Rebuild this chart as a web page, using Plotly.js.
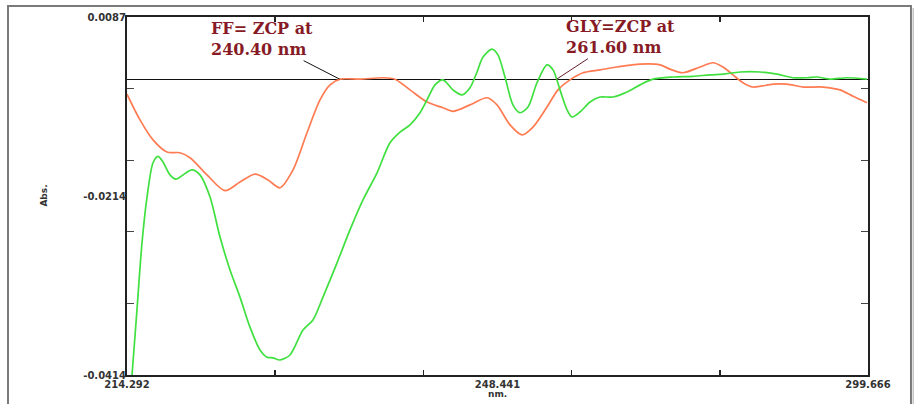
<!DOCTYPE html>
<html>
<head>
<meta charset="utf-8">
<script src="https://cdn.plot.ly/plotly-3.0.1.min.js"></script>
<style>html,body{margin:0;padding:0;background:#fff;}#chart{width:914px;height:404px;}</style>
</head>
<body>
<div id="chart"></div>
<script>
// Axis limits and tick labels (instrument style: min, mid, max)
const xMin = 214.292, xMax = 299.666;
const yMin = -0.0414, yMax = 0.0087;
const xTickText = ['214.292', '248.441', '299.666'];
const yTickText = ['0.0087', '-0.0214', '-0.0414'];

// FF spectrum (orange)
const wlFF = [214.29,215.79,217.29,218.90,220.40,221.55,223.51,225.58,227.31,229.04,230.54,231.92,233.42,235.03,236.53,237.68,238.84,241.14,243.79,245.17,246.90,248.86,250.70,251.85,253.81,255.77,256.92,258.42,259.80,261.07,262.68,263.95,265.33,266.83,268.79,270.75,273.40,275.70,276.85,278.35,280.31,281.81,282.96,284.11,285.26,286.41,288.72,290.33,292.17,294.48,296.44,297.94,299.55];
const absFF = [-0.0021,-0.0057,-0.0085,-0.0102,-0.0103,-0.0110,-0.0134,-0.0156,-0.0144,-0.0133,-0.0141,-0.0152,-0.0127,-0.0075,-0.0029,-0.0008,0.0000,0.0000,0.0002,0.0000,-0.0015,-0.0032,-0.0040,-0.0045,-0.0036,-0.0026,-0.0036,-0.0064,-0.0078,-0.0067,-0.0039,-0.0015,-0.0001,0.0009,0.0013,0.0017,0.0021,0.0020,0.0014,0.0009,0.0017,0.0023,0.0017,0.0006,-0.0005,-0.0011,-0.0007,-0.0007,-0.0011,-0.0011,-0.0015,-0.0024,-0.0033];

// GLY spectrum (green)
const wlGLY = [214.87,215.44,216.02,216.60,217.29,217.86,218.44,219.25,219.94,220.74,221.78,222.70,223.86,225.01,226.16,227.31,228.46,229.62,230.42,231.11,231.92,233.07,234.57,235.72,236.87,238.49,239.98,241.48,243.10,244.59,245.75,246.90,248.05,248.86,249.78,250.70,251.85,252.89,253.81,254.62,255.31,256.34,257.03,257.84,258.76,259.57,260.49,261.53,262.68,263.38,264.18,264.99,265.56,266.48,267.64,268.79,270.29,271.90,273.40,274.89,277.20,279.50,281.46,282.96,284.92,287.22,289.18,291.02,292.64,293.79,295.29,297.25,299.55];
const absGLY = [-0.0414,-0.0323,-0.0229,-0.0165,-0.0117,-0.0108,-0.0116,-0.0134,-0.0140,-0.0134,-0.0127,-0.0134,-0.0165,-0.0221,-0.0267,-0.0305,-0.0347,-0.0379,-0.0389,-0.0390,-0.0393,-0.0386,-0.0351,-0.0337,-0.0305,-0.0257,-0.0211,-0.0169,-0.0131,-0.0089,-0.0074,-0.0064,-0.0047,-0.0029,-0.0008,-0.0001,-0.0015,-0.0022,-0.0012,0.0010,0.0031,0.0042,0.0034,0.0003,-0.0036,-0.0047,-0.0039,-0.0005,0.0020,0.0013,-0.0015,-0.0043,-0.0053,-0.0046,-0.0032,-0.0025,-0.0025,-0.0018,-0.0008,0.0000,0.0003,0.0004,0.0006,0.0007,0.0010,0.0010,0.0007,0.0002,0.0002,0.0003,0.0000,0.0002,0.0000];

// Zero-crossing callouts (where the arrows point)
const zcpFF = 238.8, zcpGLY = 263.8;

const nDiv = 5;
const xTicks = [], yTicks = [];
for (let k = 1; k < nDiv; k++) {
  xTicks.push(xMin + k * (xMax - xMin) / nDiv);
  yTicks.push(yMax - k * (yMax - yMin) / nDiv);
}

const traces = [
  {x: wlFF, y: absFF, type: 'scatter', mode: 'lines', name: 'FF',
   line: {color: '#ff7b52', width: 1.7, shape: 'spline', smoothing: 0.8}, hoverinfo: 'skip'},
  {x: wlGLY, y: absGLY, type: 'scatter', mode: 'lines', name: 'GLY',
   line: {color: '#3fe03f', width: 1.7, shape: 'spline', smoothing: 0.8}, hoverinfo: 'skip'}
];

const tickFont = {family: 'DejaVu Sans', size: 10, color: '#333', weight: 'bold'};
const noteFont = {family: 'DejaVu Serif', size: 16, color: '#861b26', weight: 'bold'};

const layout = {
  width: 914, height: 404,
  margin: {l: 127, r: 46, t: 17, b: 29},
  paper_bgcolor: '#fff', plot_bgcolor: '#fff',
  showlegend: false,
  xaxis: {range: [xMin, xMax], showgrid: false, zeroline: false,
          showline: true, linecolor: '#222', linewidth: 1.6, mirror: 'ticks',
          tickmode: 'array', tickvals: xTicks, ticks: 'inside', ticklen: 5,
          tickcolor: '#222', tickwidth: 1.5, showticklabels: false},
  yaxis: {range: [yMin, yMax], showgrid: false,
          zeroline: true, zerolinecolor: '#111', zerolinewidth: 1.2,
          showline: true, linecolor: '#222', linewidth: 1.6, mirror: 'ticks',
          tickmode: 'array', tickvals: yTicks, ticks: 'inside', ticklen: 7,
          tickcolor: '#444', tickwidth: 1.2, showticklabels: false},
  xaxis2: {overlaying: 'x', range: [xMin, xMax], side: 'bottom', showgrid: false,
           zeroline: false, showline: false, ticks: '', ticklabelstandoff: 2,
           tickmode: 'array', tickvals: [xMin, (xMin + xMax) / 2, xMax], ticktext: xTickText,
           tickfont: tickFont},
  yaxis2: {overlaying: 'y', range: [yMin, yMax], side: 'left', showgrid: false,
           zeroline: false, showline: false, ticks: '',
           tickmode: 'array', tickvals: [yMax, (yMin + yMax) / 2, yMin], ticktext: yTickText,
           tickfont: tickFont},
  annotations: [
    {x: zcpFF, y: 0, xref: 'x', yref: 'y', text: 'FF= ZCP at<br>240.40 nm',
     showarrow: true, arrowhead: 0, arrowwidth: 1, arrowcolor: '#111',
     ax: -78, ay: -40, align: 'left', font: noteFont, standoff: 0},
    {x: zcpGLY, y: 0, xref: 'x', yref: 'y', text: 'GLY=ZCP at<br>261.60 nm',
     showarrow: true, arrowhead: 0, arrowwidth: 1, arrowcolor: '#6a1a2a',
     ax: 64, ay: -42, align: 'left', font: noteFont, standoff: 0},
    {x: -0.122, y: 0.5, xref: 'paper', yref: 'paper', text: 'Abs.', textangle: -90,
     showarrow: false, font: {family: 'DejaVu Sans', size: 9, color: '#333', weight: 'bold'}},
    {x: 0.5, y: -0.053, xref: 'paper', yref: 'paper', yanchor: 'middle', text: 'nm.',
     showarrow: false, font: {family: 'DejaVu Sans', size: 9, color: '#333', weight: 'bold'}}
  ],
  shapes: [
    {type: 'rect', xref: 'paper', yref: 'paper', x0: -0.1606, x1: 1.058, y0: -0.1, y1: 1.0307,
     line: {color: '#7a7a7a', width: 2}, fillcolor: 'rgba(0,0,0,0)'},
    {type: 'line', xref: 'paper', yref: 'paper', x0: 1.062, x1: 1.062, y0: -0.1, y1: 1.025,
     line: {color: '#c8c8c8', width: 3}}
  ]
};

// invisible helper trace so the labelling axes are drawn
traces.push({x: [xMin, xMax], y: [yMin, yMin], xaxis: 'x2', yaxis: 'y2', type: 'scatter',
             mode: 'lines', line: {width: 0}, opacity: 0, hoverinfo: 'skip'});

Plotly.newPlot('chart', traces, layout, {staticPlot: true, displayModeBar: false});
</script>
</body>
</html>
